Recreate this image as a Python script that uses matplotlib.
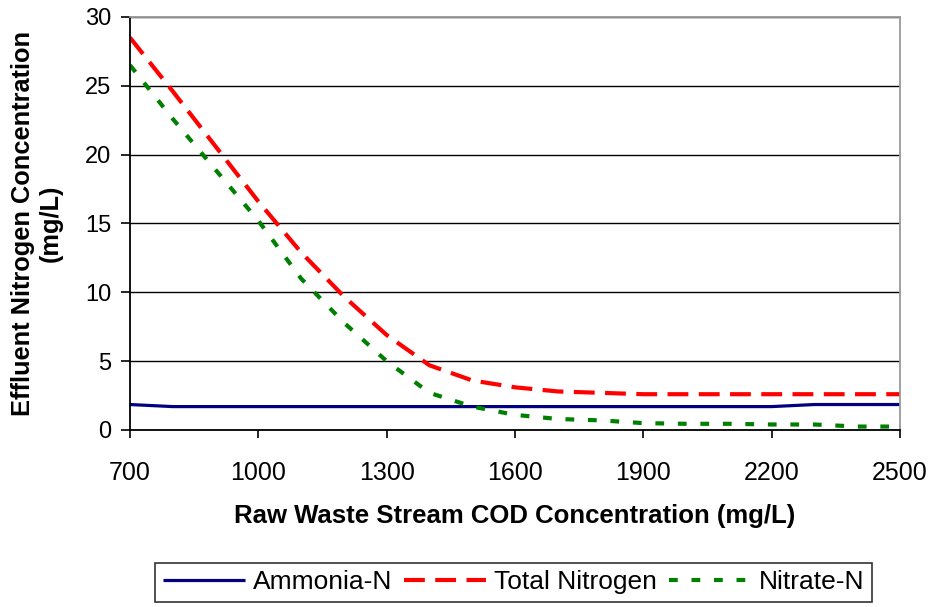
import matplotlib
matplotlib.use("Agg")
import matplotlib.pyplot as plt

cod = [700, 800, 900, 1000, 1100, 1200, 1300, 1400, 1500, 1600, 1700, 1800, 1900, 2000, 2100, 2200, 2300, 2400, 2500]
ammonia = [1.85, 1.7, 1.7, 1.7, 1.7, 1.7, 1.7, 1.7, 1.7, 1.7, 1.7, 1.7, 1.7, 1.7, 1.7, 1.7, 1.85, 1.85, 1.85]
total_n = [28.5, 24.6, 20.6, 16.6, 12.9, 9.7, 6.9, 4.7, 3.6, 3.1, 2.8, 2.7, 2.6, 2.6, 2.6, 2.6, 2.6, 2.6, 2.6]
nitrate = [26.5, 22.6, 18.9, 15.2, 11.0, 7.8, 5.0, 2.7, 1.7, 1.1, 0.8, 0.7, 0.5, 0.45, 0.45, 0.4, 0.4, 0.25, 0.25]

plt.rcParams['font.family'] = ['Liberation Sans', 'DejaVu Sans']

fig = plt.figure(figsize=(9.34, 6.07), dpi=100)
ax = fig.add_axes([0.1392, 0.2916, 0.8244, 0.6804])

ax.plot(cod, ammonia, color='#000080', lw=2.3, label='Ammonia-N', solid_capstyle='butt')
ax.plot(cod, total_n, color='#ff0000', lw=3, dashes=(5, 2.5), label='Total Nitrogen', dash_capstyle='butt')
ax.plot(cod, nitrate, color='#008000', lw=3, dashes=(2.1, 3.3), label='Nitrate-N', dash_capstyle='butt')

ax.set_xlim(700, 2500)
ax.set_ylim(0, 30)
ax.set_xticks(range(700, 2501, 300))
ax.set_yticks(range(0, 31, 5))
ax.yaxis.grid(True, color='black', lw=1)
ax.set_axisbelow(True)
ax.tick_params(axis='x', labelsize=18, direction='out', length=6, width=1.2, color='black', pad=16)
ax.tick_params(axis='y', labelsize=17, direction='out', length=6.5, width=1.2, color='black', pad=7)
for s in ['left', 'bottom']:
    ax.spines[s].set_color('black')
    ax.spines[s].set_linewidth(1.3)
for s in ['top', 'right']:
    ax.spines[s].set_color('#999999')
    ax.spines[s].set_linewidth(1.3)

ax.set_xlabel('Raw Waste Stream COD Concentration (mg/L)', fontsize=18.5, fontweight='bold')
ax.xaxis.label.set_va('center')
ax.xaxis.set_label_coords(0.5, -0.208)
ax.set_ylabel('Effluent Nitrogen Concentration\n(mg/L)', fontsize=18.3, fontweight='bold',
              linespacing=1.15)
ax.yaxis.label.set_va('center')
ax.yaxis.set_label_coords(-0.121, 0.5)

leg = fig.legend(loc='center', bbox_to_anchor=(0.550, 0.0404), ncol=3, fontsize=19,
                 frameon=True, fancybox=False, edgecolor='black', handlelength=3.1,
                 handletextpad=0.3, columnspacing=0.45, borderpad=0.3, borderaxespad=0)
leg.get_frame().set_linewidth(1.2)

fig.savefig('out.png', dpi=100)
